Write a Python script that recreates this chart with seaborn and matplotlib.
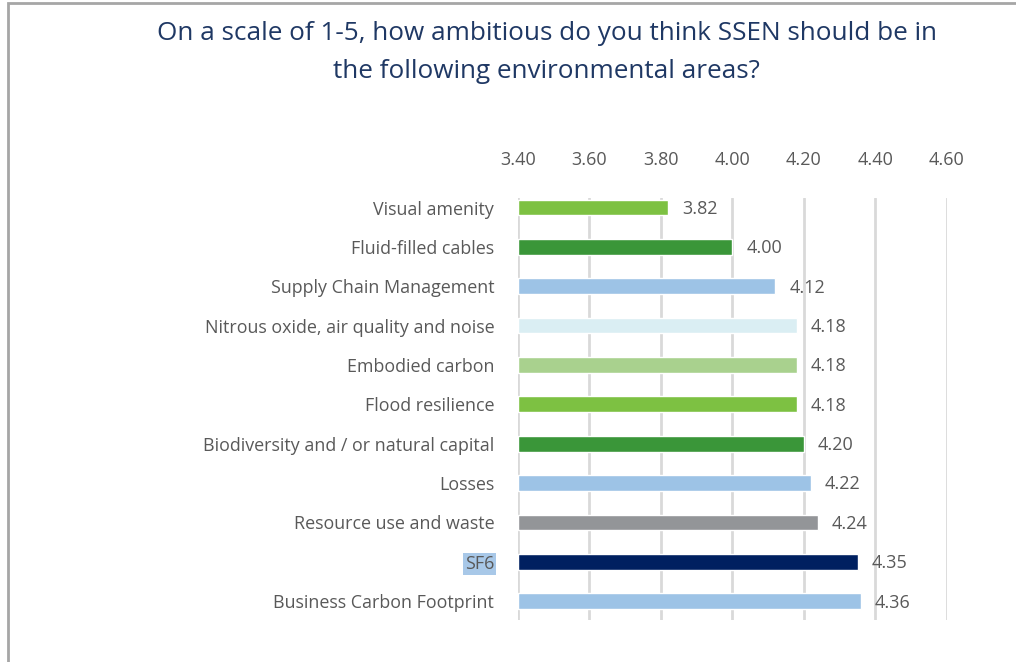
import matplotlib
matplotlib.use("Agg")
import matplotlib.pyplot as plt
import seaborn as sns
import pandas as pd
from matplotlib.patches import Rectangle

categories = [
    "Visual amenity",
    "Fluid-filled cables",
    "Supply Chain Management",
    "Nitrous oxide, air quality and noise",
    "Embodied carbon",
    "Flood resilience",
    "Biodiversity and / or natural capital",
    "Losses",
    "Resource use and waste",
    "SF6",
    "Business Carbon Footprint",
]
values = [3.82, 4.00, 4.12, 4.18, 4.18, 4.18, 4.20, 4.22, 4.24, 4.35, 4.36]
value_labels = ["3.82", "4.00", "4.12", "4.18", "4.18", "4.18", "4.20", "4.22", "4.24", "4.35", "4.36"]
colors = ["#7DC142", "#3A9639", "#9DC3E6", "#DAEEF3", "#A9D18E", "#7DC142",
          "#3A9639", "#9DC3E6", "#939598", "#002060", "#9DC3E6"]
xticks = [3.40, 3.60, 3.80, 4.00, 4.20, 4.40, 4.60]
title = "On a scale of 1-5, how ambitious do you think SSEN should be in\nthe following environmental areas?"

sns.set_theme(style="white")
plt.rcParams['font.family'] = ['Open Sans', 'DejaVu Sans']

df = pd.DataFrame({"cat": categories, "val": values})

fig = plt.figure(figsize=(10.16, 6.62), dpi=100)
ax = fig.add_axes([0.5098, 0.0634, 0.4222, 0.6380])

# gridlines
for t in xticks:
    ax.axvline(t, color="#D9D9D9", lw=2, zorder=0)

sns.barplot(data=df, x="val", y="cat", hue="cat", palette=colors, legend=False,
            orient="h", width=0.4, saturation=1, ax=ax, zorder=2)

# bars start at the axis minimum 3.40
for p, v in zip(ax.patches, values):
    p.set_x(3.40)
    p.set_width(v - 3.40)

ax.set_xlim(3.40, 4.60)
ax.set_ylim(10.48, -0.25)
ax.set_xticks(xticks)
ax.set_xticklabels([f"{t:.2f}" for t in xticks], color="#595959", fontsize=13)
ax.xaxis.tick_top()
ax.tick_params(axis="x", length=0, pad=21)
ax.tick_params(axis="y", length=0, pad=17)
for lab in ax.get_yticklabels():
    lab.set_color("#595959")
    lab.set_fontsize(12.9)
    if lab.get_text() == "SF6":
        lab.set_bbox(dict(facecolor="#A8C8E8", edgecolor="none", pad=1.5))
ax.set_xlabel("")
ax.set_ylabel("")
for s in ax.spines.values():
    s.set_visible(False)

for i, (v, lbl) in enumerate(zip(values, value_labels)):
    ax.annotate(lbl, xy=(v, i), xytext=(10, -1), textcoords="offset points",
                va="center", ha="left", color="#595959", fontsize=13)

fig.text(0.538, 0.968, title, ha="center", va="top", color="#1F3864",
         fontsize=18.8, linespacing=1.65)

# outer frame
fig.add_artist(Rectangle((0.008, -0.01), 1.2, 1.0055, transform=fig.transFigure,
                         fill=False, edgecolor="#A6A6A6", lw=2))

fig.savefig("out.png", dpi=100)
